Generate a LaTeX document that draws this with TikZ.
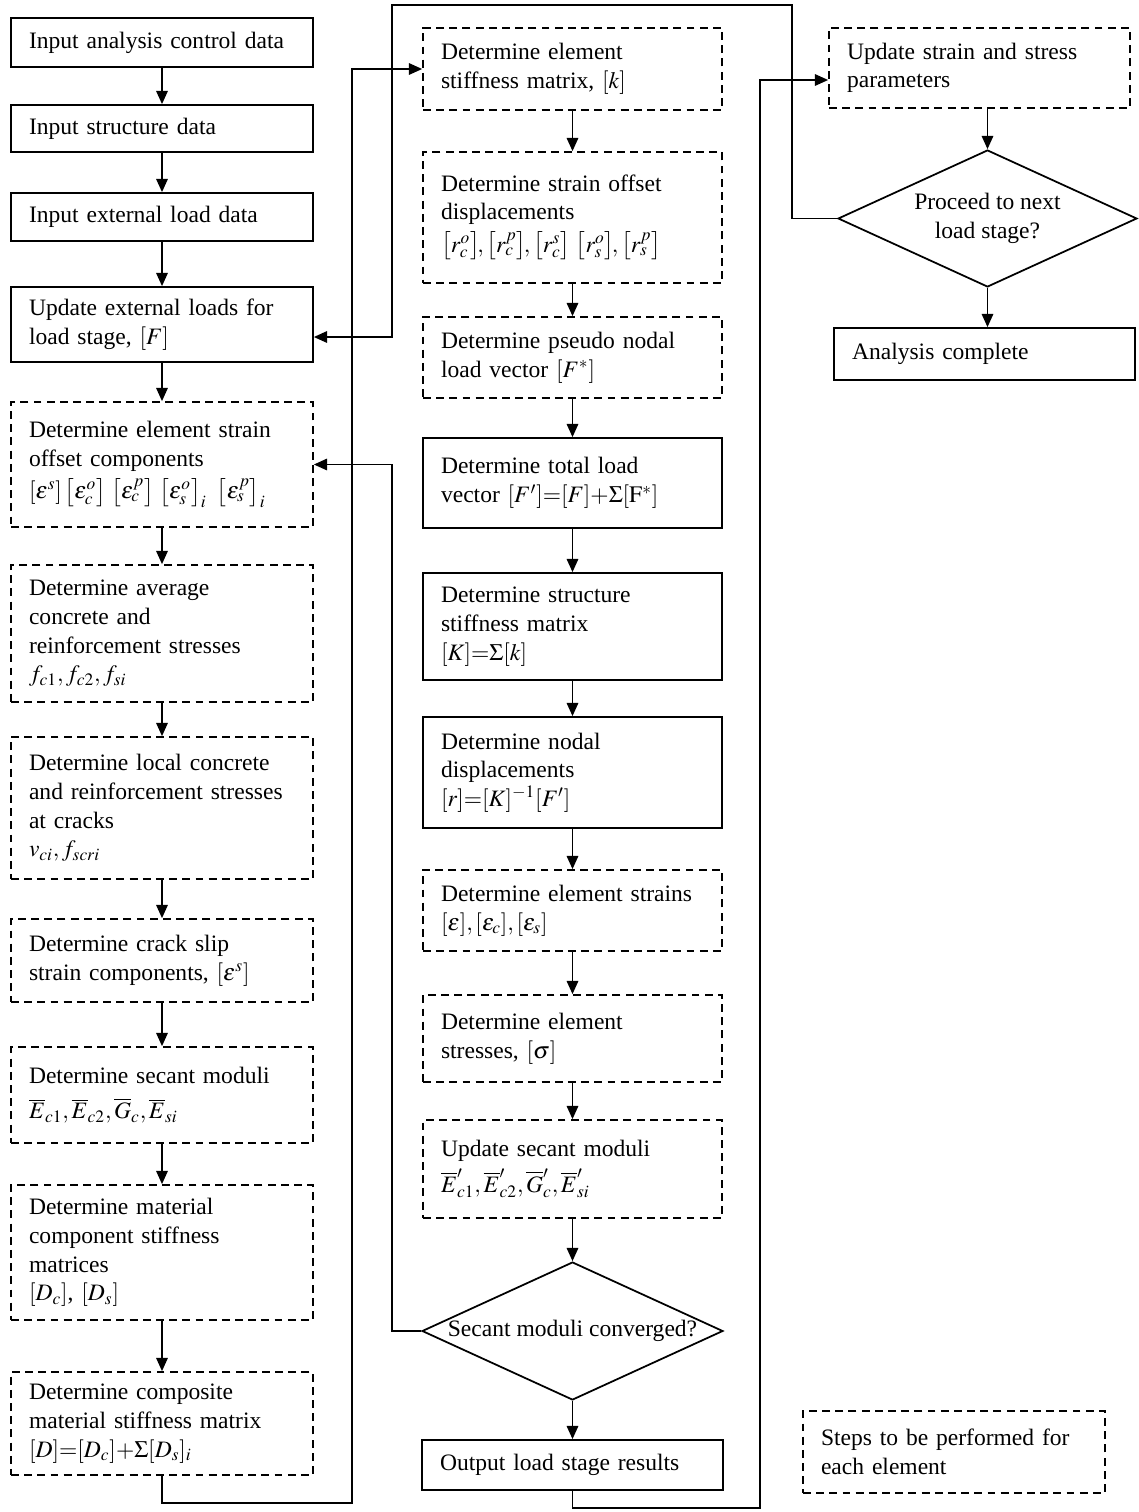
\documentclass[tikz,border=0pt]{standalone}
\usepackage{amsmath}
\usepackage{mathptmx}
\usepackage{fontspec}
\setmainfont{Liberation Serif}
\usepackage{tikz}
\usetikzlibrary{arrows.meta,positioning,shapes.geometric}

\begin{document}
\begin{tikzpicture}[x=0.02cm,y=-0.02cm,line width=1pt,
      >={Triangle[length=7.5pt,width=6.5pt]},
      font=\fontsize{13.4pt}{16.3pt}\selectfont,
      box/.style={draw,rectangle,text width=#1,inner xsep=0.36cm,inner ysep=0pt,align=left},
      box/.default=5.32cm,
      elem/.style={box=#1,dashed,dash pattern=on 4.5pt off 3pt},
      elem/.default=5.32cm,
      decide/.style={diamond,draw,align=center,inner sep=0pt,aspect=2.2,
        minimum width=6.02cm,minimum height=2.76cm}]
    \useasboundingbox (0,0) rectangle (1139,1512);

    % left column
    \node[box,minimum height=0.98cm]  (inA)  at (162,42.5)   {Input analysis control data};
    \node[box,minimum height=0.94cm]  (inB)  at (162,128.5)  {Input structure data};
    \node[box,minimum height=0.96cm]  (inC)  at (162,217)    {Input external load data};
    \node[box,minimum height=1.5cm]   (updF) at (162,324.5)  {Update external loads for\\load stage, $[F]$};
    \node[elem,minimum height=2.5cm]  (offs) at (162,464.5)  {Determine element strain\\offset components\\[2pt]
      $[\varepsilon^s]\,\bigl[\varepsilon_c^o\bigr]\;\bigl[\varepsilon_c^p\bigr]\;\bigl[\varepsilon_s^o\bigr]_{i}\;\;\bigl[\varepsilon_s^p\bigr]_{i}$};
    \node[elem,minimum height=2.74cm] (avg)  at (162,633.5)  {Determine average\\concrete and\\reinforcement stresses\\$f_{c1}, f_{c2}, f_{si}$};
    \node[elem,minimum height=2.84cm] (loc)  at (162,808)    {Determine local concrete\\and reinforcement stresses\\at cracks\\$v_{ci}, f_{scri}$};
    \node[elem,minimum height=1.66cm] (slip) at (162,960.5)  {Determine crack slip\\strain components, $[\varepsilon^s]$};
    \node[elem,minimum height=1.92cm] (sec)  at (162,1095)   {Determine secant moduli\\[4pt]
      $\overline{E}_{c1}, \overline{E}_{c2}, \overline{G}_{c}, \overline{E}_{si}$};
    \node[elem,minimum height=2.7cm]  (mat)  at (162,1252.5) {Determine material\\component stiffness\\matrices\\$[D_c]$, $[D_s]$};
    \node[elem,minimum height=2.06cm] (comp) at (162,1423.5) {Determine composite\\material stiffness matrix\\$[D]{=}[D_c]{+}\Sigma[D_s]_i$};

    % middle column
    \node[elem=5.26cm,minimum height=1.64cm] (kel)     at (572.5,69)    {Determine element\\stiffness matrix, $[k]$};
    \node[elem=5.26cm,minimum height=2.62cm] (disp)    at (572.5,217.5) {Determine strain offset\\displacements\\[2pt]
      $\bigl[r_c^o\bigr]\!,\bigl[r_c^p\bigr]\!,\bigl[r_c^s\bigr]\;\bigl[r_s^o\bigr]\!,\bigl[r_s^p\bigr]$};
    \node[elem=5.26cm,minimum height=1.62cm] (pseudo)  at (572.5,357.5) {Determine pseudo nodal\\load vector $[F^*]$};
    \node[box=5.26cm,minimum height=1.8cm]   (total)   at (572.5,483)   {Determine total load\\vector $[F']{=}[F]{+}\Sigma[\mathrm{F}^*]$};
    \node[box=5.26cm,minimum height=2.14cm]  (stiff)   at (572.5,626.5) {Determine structure\\stiffness matrix\\$[K]{=}\Sigma[k]$};
    \node[box=5.26cm,minimum height=2.22cm]  (nodal)   at (572.5,772.5) {Determine nodal\\displacements\\$[r]{=}[K]^{-1}[F']$};
    \node[elem=5.26cm,minimum height=1.62cm] (estr)    at (572.5,910.5) {Determine element strains\\$[\varepsilon],[\varepsilon_c], [\varepsilon_s]$};
    \node[elem=5.26cm,minimum height=1.74cm] (estress) at (572.5,1038.5){Determine element\\stresses, $[\sigma]$};
    \node[elem=5.26cm,minimum height=1.96cm] (usec)    at (572.5,1169)  {Update secant moduli\\[4pt]
      $\overline{E}'_{c1}, \overline{E}'_{c2}, \overline{G}'_{c}, \overline{E}'_{si}$};
    \node[decide] (conv) at (572.5,1331) {\makebox[0pt]{Secant moduli converged?}};
    \node[box=5.3cm,minimum height=1.0cm]    (out)     at (572.5,1465)  {Output load stage results};

    % right column
    \node[elem=5.3cm,minimum height=1.6cm]   (ustr) at (979.5,68)  {Update strain and stress\\parameters};
    \node[decide,minimum width=5.98cm,minimum height=2.74cm] (nxt) at (987.5,218.5) {Proceed to next\\load stage?};
    \node[box=5.3cm,minimum height=1.04cm]   (done) at (984.5,354) {Analysis complete};
    \node[elem,minimum height=1.64cm]        (key)  at (954,1452)  {Steps to be performed for\\each element};

    % bends of the loops
    \coordinate (b1) at (352,1503);
    \coordinate (b2) at (792,5);
    \coordinate (b3) at (392,337);
    \coordinate (b4) at (392,464.5);
    \coordinate (b5) at (760,1508);
    \coordinate (b6) at (760,80);

    % main flow
    \foreach \a/\b in {inA/inB,inB/inC,inC/updF,updF/offs,offs/avg,avg/loc,loc/slip,
        slip/sec,sec/mat,mat/comp,kel/disp,disp/pseudo,pseudo/total,total/stiff,
        stiff/nodal,nodal/estr,estr/estress,estress/usec,usec/conv,conv/out}
      \draw[->] (\a) -- (\b);
    \draw[->] (nxt.north |- ustr.south) -- (nxt.north);
    \draw[->] (nxt.south) -- (nxt.south |- done.north);

    % loops
    \draw[->] (comp.south) |- (b1) |- (kel.west);
    \draw[->] (nxt.west) -| (b2) -| (b3) -- (updF.east |- b3);
    \draw[->] (conv.west) -| (b4) -- (offs.east);
    \draw[->] (out.south) |- (b5) |- (ustr.west |- b6);
\end{tikzpicture}
\end{document}
